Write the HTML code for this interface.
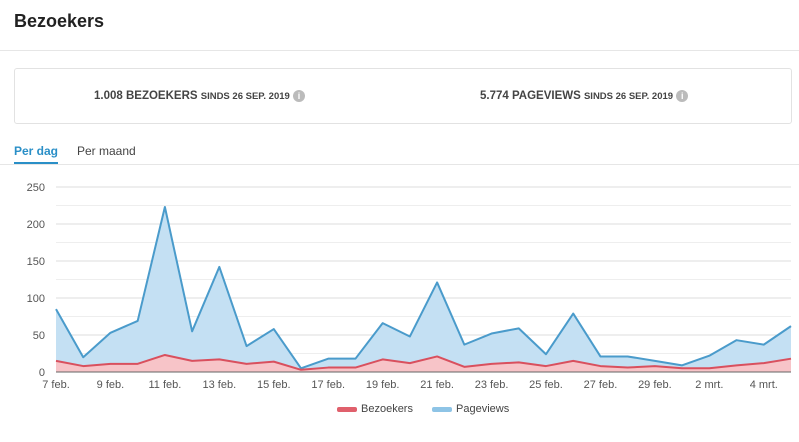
<!DOCTYPE html>
<html><head><meta charset="utf-8"><style>
body{margin:0;width:799px;height:442px;background:#fff;font-family:"Liberation Sans",sans-serif;position:relative;overflow:hidden;color:#333}
.abs{position:absolute}
</style></head><body>
<div class="abs" style="left:14px;top:11px;font-size:18px;font-weight:bold;color:#222">Bezoekers</div>
<div class="abs" style="left:0;top:50px;width:799px;height:1px;background:#e6e6e6"></div>
<div class="abs" style="left:14px;top:68px;width:776px;height:54px;border:1px solid #e2e2e2;border-radius:3px"></div>
<div class="abs" style="left:94px;top:90px;font-size:11.5px;font-weight:bold;color:#444">1.008 BEZOEKERS <span style="font-size:9.5px">SINDS 26 SEP. 2019</span> <span style="display:inline-block;width:12px;height:12px;border-radius:50%;background:#bbb;color:#fff;font-size:9px;text-align:center;line-height:12px">i</span></div>
<div class="abs" style="left:480px;top:90px;font-size:11.5px;font-weight:bold;color:#444">5.774 PAGEVIEWS <span style="font-size:9.5px">SINDS 26 SEP. 2019</span> <span style="display:inline-block;width:12px;height:12px;border-radius:50%;background:#bbb;color:#fff;font-size:9px;text-align:center;line-height:12px">i</span></div>
<div class="abs" style="left:14px;top:144px;font-size:12px;font-weight:bold;color:#2a8fc7">Per dag</div>
<div class="abs" style="left:14px;top:162px;width:44px;height:2px;background:#2a8fc7"></div>
<div class="abs" style="left:77px;top:144px;font-size:12px;color:#444">Per maand</div>
<div class="abs" style="left:0;top:164px;width:799px;height:1px;background:#e6e6e6"></div>
<svg class="abs" style="left:0;top:0" width="799" height="442" id="chart"></svg>
<script>
const categories=["7 feb.","8 feb.","9 feb.","10 feb.","11 feb.","12 feb.","13 feb.","14 feb.","15 feb.","16 feb.","17 feb.","18 feb.","19 feb.","20 feb.","21 feb.","22 feb.","23 feb.","24 feb.","25 feb.","26 feb.","27 feb.","28 feb.","29 feb.","1 mrt.","2 mrt.","3 mrt.","4 mrt.","5 mrt."];
const pageviews=[85,20,53,69,223,55,142,35,58,5,18,18,66,48,121,37,52,59,24,79,21,21,15,9,22,43,37,62];
const bezoekers=[15,8,11,11,23,15,17,11,14,3,6,6,17,12,21,7,11,13,8,15,8,6,8,5,5,9,12,18];
const yTicks=[0,50,100,150,200,250];
const NS="http://www.w3.org/2000/svg";
const svg=document.getElementById('chart');
const x0=56,x1=791,y0=372,yTop=187,yMax=250;
const xs=i=>x0+i*(x1-x0)/(categories.length-1);
const ys=v=>y0-v*(y0-yTop)/yMax;
function mk(t,a){const e=document.createElementNS(NS,t);for(const k in a)e.setAttribute(k,a[k]);svg.appendChild(e);return e;}
for(let v=0;v<=yMax;v+=25){const l=mk('line',{x1:x0,x2:x1,y1:ys(v),y2:ys(v),stroke:v%50?'#eee':'#ddd','stroke-width':1});

}
yTicks.forEach(v=>{const t=mk('text',{x:45,y:ys(v)+4,'text-anchor':'end','font-size':11,fill:'#555'});t.textContent=v;

});
categories.forEach((c,i)=>{if(i%2)return;const t=mk('text',{x:xs(i),y:388,'text-anchor':'middle','font-size':11,fill:'#555'});t.textContent=c;

});
function series(vals,fill,stroke,name){
 const pts=vals.map((v,i)=>xs(i)+','+ys(v)).join(' ');
 const a=mk('polygon',{points:x0+','+y0+' '+pts+' '+x1+','+y0,fill:fill});
 
 
 const l=mk('polyline',{points:pts,fill:'none',stroke:stroke,'stroke-width':2,'stroke-linejoin':'round'});
 
 
}
series(pageviews,'#c4e0f3','#4a9bcb','pageviews');
series(bezoekers,'#f7c4c8','#d9505e','bezoekers');
const ax=mk('line',{x1:x0,x2:x1,y1:y0,y2:y0,stroke:'#666','stroke-width':1});


</script>
<div class="abs" style="left:337px;top:403px;font-size:11px;color:#444"><span style="display:inline-block;width:20px;height:5px;background:#e0606c;border-radius:2px;vertical-align:middle;margin-right:4px"></span>Bezoekers</div>
<div class="abs" style="left:432px;top:403px;font-size:11px;color:#444"><span style="display:inline-block;width:20px;height:5px;background:#8ec4e6;border-radius:2px;vertical-align:middle;margin-right:4px"></span>Pageviews</div>
</body></html>
